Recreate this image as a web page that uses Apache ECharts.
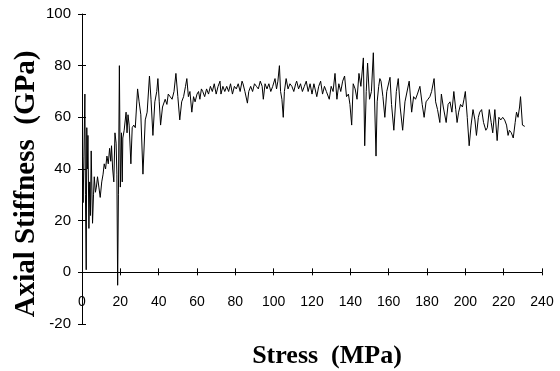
<!DOCTYPE html>
<html>
<head>
<meta charset="utf-8">
<script src="https://cdn.jsdelivr.net/npm/echarts@6/dist/echarts.min.js"></script>
<style>
  html, body { margin: 0; padding: 0; background: #fff; }
  #chart { width: 560px; height: 371px; }
</style>
</head>
<body>
<div id="chart"></div>
<script>
// values
let stress = [
  0.3, 0.6, 1.0, 1.5, 1.8, 2.2, 2.5, 2.8, 3.1, 3.6, 4.0, 4.4, 4.8, 5.5, 6.0, 6.4, 7.0, 7.5, 8.1, 8.8,
  9.5, 10.3, 11.0, 11.6, 12.3, 13.0, 13.7, 14.4, 15.0, 15.4, 16.0, 16.6, 17.2, 17.8, 18.2, 18.6, 19.0, 19.5, 20.0, 20.6,
  21.0, 21.3, 22.0, 23.0, 23.5, 24.0, 24.6, 25.5, 26.2, 27.0, 27.8, 29.0, 29.8, 30.7, 31.8, 33.0, 34.0, 35.2, 36.0, 37.0,
  38.0, 39.0, 39.6, 40.3, 41.0, 42.0, 43.4, 44.3, 45.0, 46.0, 47.0, 48.0, 49.0, 50.0, 51.0, 52.0, 53.0, 54.0, 54.7, 55.5,
  56.3, 57.3, 58.2, 59.0, 60.0, 60.8, 61.5, 62.3, 63.0, 64.0, 65.0, 66.0, 67.0, 68.0, 69.0, 70.0, 71.0, 72.0, 72.5, 73.5,
  74.5, 75.5, 76.5, 77.5, 78.5, 79.5, 80.5, 81.5, 82.5, 83.5, 84.0, 85.0, 86.3, 87.0, 88.0, 89.0, 90.0, 91.0, 92.0, 93.0,
  94.0, 94.6, 95.5, 96.5, 97.5, 98.5, 99.5, 100.7, 101.5, 102.2, 103.0, 103.6, 104.3, 105.0, 105.6, 106.5, 107.5, 108.5, 109.5, 110.5,
  111.5, 112.0, 113.0, 114.0, 115.0, 116.0, 117.0, 118.0, 119.0, 120.0, 121.0, 122.5, 123.5, 124.5, 125.5, 126.5, 127.5, 129.0, 130.0, 131.0,
  132.0, 133.0, 134.0, 135.0, 136.0, 137.0, 138.0, 139.0, 139.8, 140.7, 141.5, 142.5, 143.5, 144.5, 145.5, 146.8, 147.5, 148.3, 149.0, 150.0,
  151.0, 152.0, 153.4, 154.0, 154.8, 155.4, 156.0, 157.0, 158.0, 159.0, 160.7, 161.5, 162.7, 164.0, 165.0, 166.0, 167.3, 168.5, 170.7, 172.0,
  173.0, 174.0, 175.0, 176.3, 177.5, 178.5, 179.5, 180.5, 181.5, 182.4, 183.7, 184.5, 185.5, 186.7, 187.5, 188.5, 190.0, 191.0, 192.0, 193.0,
  194.0, 195.0, 195.7, 196.5, 197.5, 198.5, 199.3, 200.0, 201.0, 202.0, 203.0, 204.0, 205.0, 205.8, 206.8, 207.5, 208.5, 209.5, 210.7, 211.5,
  212.5, 213.5, 214.3, 215.4, 216.6, 217.5, 218.5, 219.5, 220.5, 221.5, 222.3, 223.0, 224.0, 225.0, 226.0, 226.7, 227.5, 228.3, 228.8, 229.8,
  231.0
]
let stiffness = [
  42, 27, 45, 69, 30, 1, 56, 40, 53, 17, 35, 22, 47, 19, 30, 37, 31, 33, 37, 33,
  29, 35, 38, 42, 40, 45, 42, 48, 43, 49, 40, 35, 54, 50, 38, -5, 30, 80, 33, 54,
  35, 52, 55, 62, 54, 61, 57, 42, 56, 57, 56, 71, 66, 61, 38, 59, 62, 76, 67, 53,
  66, 70, 75, 66, 57, 64, 67, 65, 69, 68, 67, 70, 77, 68, 59, 66, 68, 72, 75, 68,
  70, 62, 68, 66, 69, 70, 67, 71, 70, 68, 71, 69, 72, 70, 73, 69, 72, 74, 69, 72,
  70, 72, 70, 73, 69, 72, 71, 73, 70, 74, 73, 70, 65.5, 70, 72, 70, 73, 72, 71, 74,
  72, 67, 73, 71, 73, 70, 72, 75, 71, 74, 80, 70, 67, 60, 70, 75, 71, 73, 72, 70,
  73, 74, 71, 73, 70, 72, 74, 70, 73, 69, 73, 68, 72, 74, 69, 72, 70, 67, 72, 70,
  77, 67, 73, 70, 74, 76, 68, 69, 65, 57, 73, 71, 67, 77, 72, 83, 49, 70, 81, 67,
  70, 85, 45, 66, 72, 75, 74, 68, 60, 70, 75.5, 65, 55, 70, 75, 64, 55, 66, 74, 62,
  68, 67, 69, 72, 65, 60, 66, 67, 68, 70, 75, 66, 63, 58, 69, 64, 58, 65, 66, 62,
  70, 63, 58, 62, 65, 64, 67, 70, 60, 49, 57, 63, 59, 53, 60, 62, 63, 58, 55, 56,
  63, 58, 54, 63, 51, 60, 59, 60, 59, 57, 53, 55, 54, 52, 58, 62, 60, 64, 68, 57,
  56.5
]
let xTicks = { min: 0, max: 240, interval: 20 }
let yTicks = { min: -20, max: 100, interval: 20 }

let sans = '"Liberation Sans", Arial, sans-serif'
let serif = '"Liberation Serif", "Times New Roman", serif'

// plot box inside the 560x371 canvas
let gridBox = { left: 82, right: 18, top: 14, bottom: 47 }

function main() {
  let el = document.getElementById('chart')
  let chart = echarts.init(el, null, { renderer: 'canvas' })
  let points = stress.map((s, i) => [s, stiffness[i]])

  // the x axis sits on y = 0, lifted up from the bottom of the grid
  let plotH = el.clientHeight - gridBox.top - gridBox.bottom
  let zeroLift = plotH * (0 - yTicks.min) / (yTicks.max - yTicks.min)

  let option = {
    animation: false,
    backgroundColor: '#fff',
    grid: {
      ...gridBox,
      outerBoundsMode: 'none'
    },
    xAxis: [
      {
        type: 'value',
        ...xTicks,
        position: 'bottom',
        offset: -zeroLift,
        name: 'Stress  (MPa)',
        nameLocation: 'middle',
        nameGap: 71,
        nameMoveOverlap: false,
        nameTextStyle: { fontFamily: serif, fontWeight: 'bold', fontSize: 26, color: '#000', padding: [0, 0, 0, 30] },
        axisLine: { show: true, onZero: false, lineStyle: { color: '#000', width: 1 } },
        axisTick: { show: true, inside: false, length: 3, lineStyle: { color: '#000' } },
        axisLabel: { margin: 23, fontFamily: sans, fontSize: 14, color: '#000' },
        splitLine: { show: false }
      },
      {
        type: 'value',
        ...xTicks,
        position: 'bottom',
        offset: -zeroLift,
        axisLine: { show: false, onZero: false },
        axisTick: { show: true, inside: true, length: 4, lineStyle: { color: '#000' } },
        axisLabel: { show: false },
        splitLine: { show: false }
      }
    ],
    yAxis: [
      {
        type: 'value',
        ...yTicks,
        position: 'left',
        name: 'Axial Stiffness  (GPa)',
        nameLocation: 'middle',
        nameGap: 41,
        nameMoveOverlap: false,
        nameTextStyle: { fontFamily: serif, fontWeight: 'bold', fontSize: 29, color: '#000', padding: [0, 30, 0, 0] },
        axisLine: { show: true, onZero: false, lineStyle: { color: '#000', width: 1 } },
        axisTick: { show: true, inside: false, length: 4, lineStyle: { color: '#000' } },
        axisLabel: { margin: 11, fontFamily: sans, fontSize: 15, color: '#000' },
        splitLine: { show: false }
      },
      {
        type: 'value',
        ...yTicks,
        position: 'left',
        axisLine: { show: false, onZero: false },
        axisTick: { show: true, inside: true, length: 4, lineStyle: { color: '#000' } },
        axisLabel: { show: false },
        splitLine: { show: false }
      }
    ],
    series: [
      {
        type: 'line',
        data: points,
        showSymbol: false,
        symbol: 'none',
        lineStyle: { color: '#000', width: 1 }
      }
    ]
  }
  chart.setOption(option)
}

main()
</script>
</body>
</html>
